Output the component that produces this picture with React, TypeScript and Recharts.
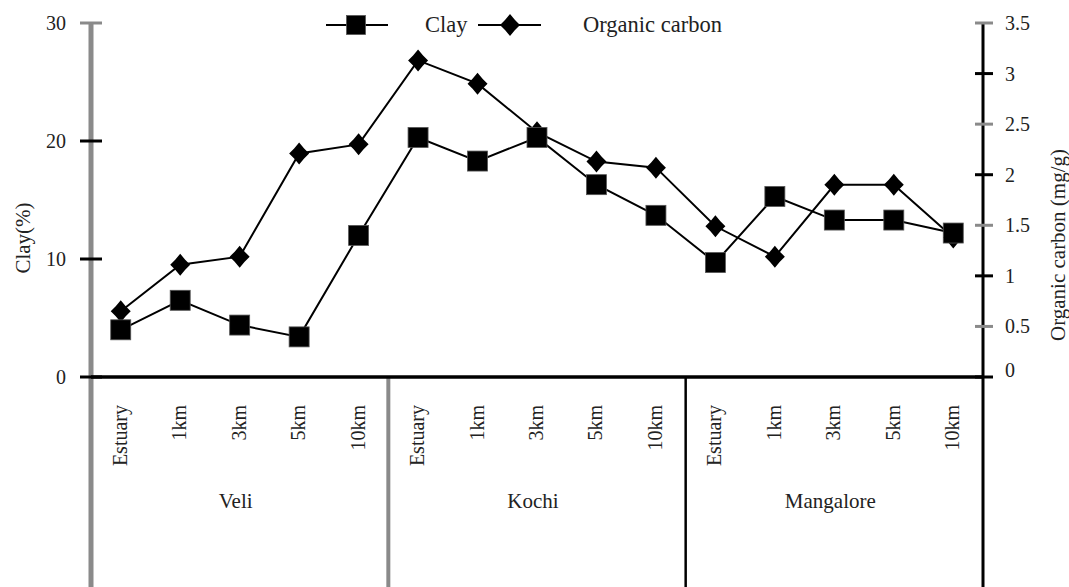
import React from 'react'
import { LineChart, Line, XAxis, YAxis, ReferenceLine, Label } from 'recharts'

const categories = [
  'Estuary', '1km', '3km', '5km', '10km',
  'Estuary', '1km', '3km', '5km', '10km',
  'Estuary', '1km', '3km', '5km', '10km',
]
const sites = ['Veli', 'Kochi', 'Mangalore']
const clay = [4.0, 6.5, 4.4, 3.4, 12.0, 20.3, 18.3, 20.3, 16.3, 13.7, 9.7, 15.3, 13.3, 13.3, 12.2]
const organicCarbon = [0.65, 1.11, 1.19, 2.21, 2.3, 3.13, 2.9, 2.42, 2.13, 2.07, 1.49, 1.19, 1.9, 1.9, 1.38]
const clayTicks = [0, 10, 20, 30]
const ocTicks = [0, 0.5, 1, 1.5, 2, 2.5, 3, 3.5]

const data = categories.map((c, i) => ({ idx: i, label: c, clay: clay[i], oc: organicCarbon[i] }))
const groupSize = 5
const xTicks = data.map(d => d.idx)

const FONT = 'Liberation Serif, Tinos, DejaVu Serif, serif'
const INK = '#222'
const GRAY = '#8a8a8a'
const txt = { fontFamily: FONT }

const Square = ({ cx, cy, size = 20 }: any) => (
  <rect x={cx - size / 2} y={cy - size / 2} width={size} height={size} fill="#000" stroke="#555" strokeWidth={0.8} />
)

// fat diamond marker, a little star-like like the original
const Diamond = ({ cx, cy }: any) => (
  <polygon
    points={`${cx},${cy - 11} ${cx + 5},${cy - 5} ${cx + 10},${cy} ${cx + 5},${cy + 5} ${cx},${cy + 11} ${cx - 5},${cy + 5} ${cx - 10},${cy} ${cx - 5},${cy - 5}`}
    fill="#000"
  />
)

const CategoryTick = ({ x, y, payload }: any) => {
  const i = payload.value
  const inGroup = i % groupSize
  return (
    <g>
      <text
        transform={`translate(${x - 1},${y + 28}) rotate(-90)`}
        textAnchor="end"
        dominantBaseline="central"
        fontSize={20}
        style={txt}
        fill={INK}
      >
        {categories[i]}
      </text>
      {inGroup === 2 && (
        <text x={x - 4} y={y + 131} textAnchor="middle" fontSize={21} style={txt} fill={INK}>
          {sites[Math.floor(i / groupSize)]}
        </text>
      )}
    </g>
  )
}

const LeftTick = ({ x, y, payload }: any) => (
  <g>
    <line x1={x - 11} x2={x + 11} y1={y} y2={y} stroke={payload.value === 30 ? GRAY : '#000'} strokeWidth={3} />
    <text x={x - 25} y={y} textAnchor="end" dominantBaseline="central" fontSize={20} style={txt} fill={INK}>
      {payload.value}
    </text>
  </g>
)

const RightTick = ({ x, y, payload }: any) => {
  const half = Math.round(payload.value * 2) % 2 === 1
  return (
    <g>
      <line x1={x - 8} x2={x + 10} y1={y} y2={y} stroke={half ? GRAY : '#000'} strokeWidth={3} />
      <text x={x + 22} y={payload.value === 0 ? y - 7 : y} textAnchor="start" dominantBaseline="central" fontSize={20} style={txt} fill={INK}>
        {payload.value}
      </text>
    </g>
  )
}

const ChartLegend = () => (
  <svg width={1069} height={45} style={{ position: 'absolute', left: 0, top: 0, pointerEvents: 'none' }}>
    <line x1={326} x2={388} y1={25} y2={25} stroke="#000" strokeWidth={2} />
    <Square cx={356} cy={25} size={19} />
    <text x={425} y={32} fontSize={22.5} style={txt} fill={INK}>Clay</text>
    <line x1={478} x2={541} y1={25} y2={25} stroke="#000" strokeWidth={2} />
    <Diamond cx={510} cy={25} />
    <text x={583} y={32} fontSize={22.5} style={txt} fill={INK}>Organic carbon</text>
  </svg>
)

const dividers = [
  { x: -0.5, color: GRAY, width: 5, top: 30 },
  { x: groupSize - 0.5, color: GRAY, width: 4, top: 0 },
  { x: groupSize * 2 - 0.5, color: '#000', width: 2.5, top: 0 },
  { x: groupSize * 3 - 0.5, color: '#000', width: 3, top: 30 },
]

export default function App() {
  return (
    <div style={{ position: 'absolute', left: 0, top: 0, width: 1069, height: 587, background: '#fff' }}>
      <style>{'body{margin:0;background:#fff}'}</style>
      <LineChart width={1069} height={587} data={data} margin={{ top: 23, right: 6, bottom: 10, left: 21 }}>
        <XAxis
          dataKey="idx"
          type="number"
          domain={[-0.5, 14.5]}
          ticks={xTicks}
          interval={0}
          height={200}
          tickSize={0}
          tickMargin={0}
          tickLine={false}
          axisLine={{ stroke: '#000', strokeWidth: 3.5 }}
          tick={<CategoryTick />}
        />
        <YAxis
          yAxisId="clay"
          orientation="left"
          domain={[0, 30]}
          ticks={clayTicks}
          width={70}
          tickSize={0}
          tickMargin={0}
          tickLine={false}
          axisLine={false}
          tick={<LeftTick />}
        >
          <Label
            content={() => (
              <text transform="translate(23,238) rotate(-90)" textAnchor="middle" dominantBaseline="central" fontSize={21} style={txt} fill={INK}>
                Clay(%)
              </text>
            )}
          />
        </YAxis>
        <YAxis
          yAxisId="oc"
          orientation="right"
          domain={[0, 3.5]}
          ticks={ocTicks}
          width={80}
          tickSize={0}
          tickMargin={0}
          tickLine={false}
          axisLine={false}
          tick={<RightTick />}
        >
          <Label
            content={() => (
              <text transform="translate(1058,245) rotate(-90)" textAnchor="middle" dominantBaseline="central" fontSize={21} style={txt} fill={INK}>
                Organic carbon (mg/g)
              </text>
            )}
          />
        </YAxis>
        {dividers.map(d => (
          <ReferenceLine
            key={d.x}
            yAxisId="clay"
            ifOverflow="visible"
            segment={[{ x: d.x, y: d.top }, { x: d.x, y: -18 }]}
            stroke={d.color}
            strokeWidth={d.width}
          />
        ))}
        <Line
          yAxisId="oc"
          dataKey="oc"
          name="Organic carbon"
          stroke="#000"
          strokeWidth={2}
          dot={(p: any) => <Diamond key={`oc-${p.index}`} cx={p.cx} cy={p.cy} />}
          activeDot={false}
          isAnimationActive={false}
        />
        <Line
          yAxisId="clay"
          dataKey="clay"
          name="Clay"
          stroke="#000"
          strokeWidth={2}
          dot={(p: any) => <Square key={`clay-${p.index}`} cx={p.cx} cy={p.cy} />}
          activeDot={false}
          isAnimationActive={false}
        />
      </LineChart>
      <ChartLegend />
    </div>
  )
}
